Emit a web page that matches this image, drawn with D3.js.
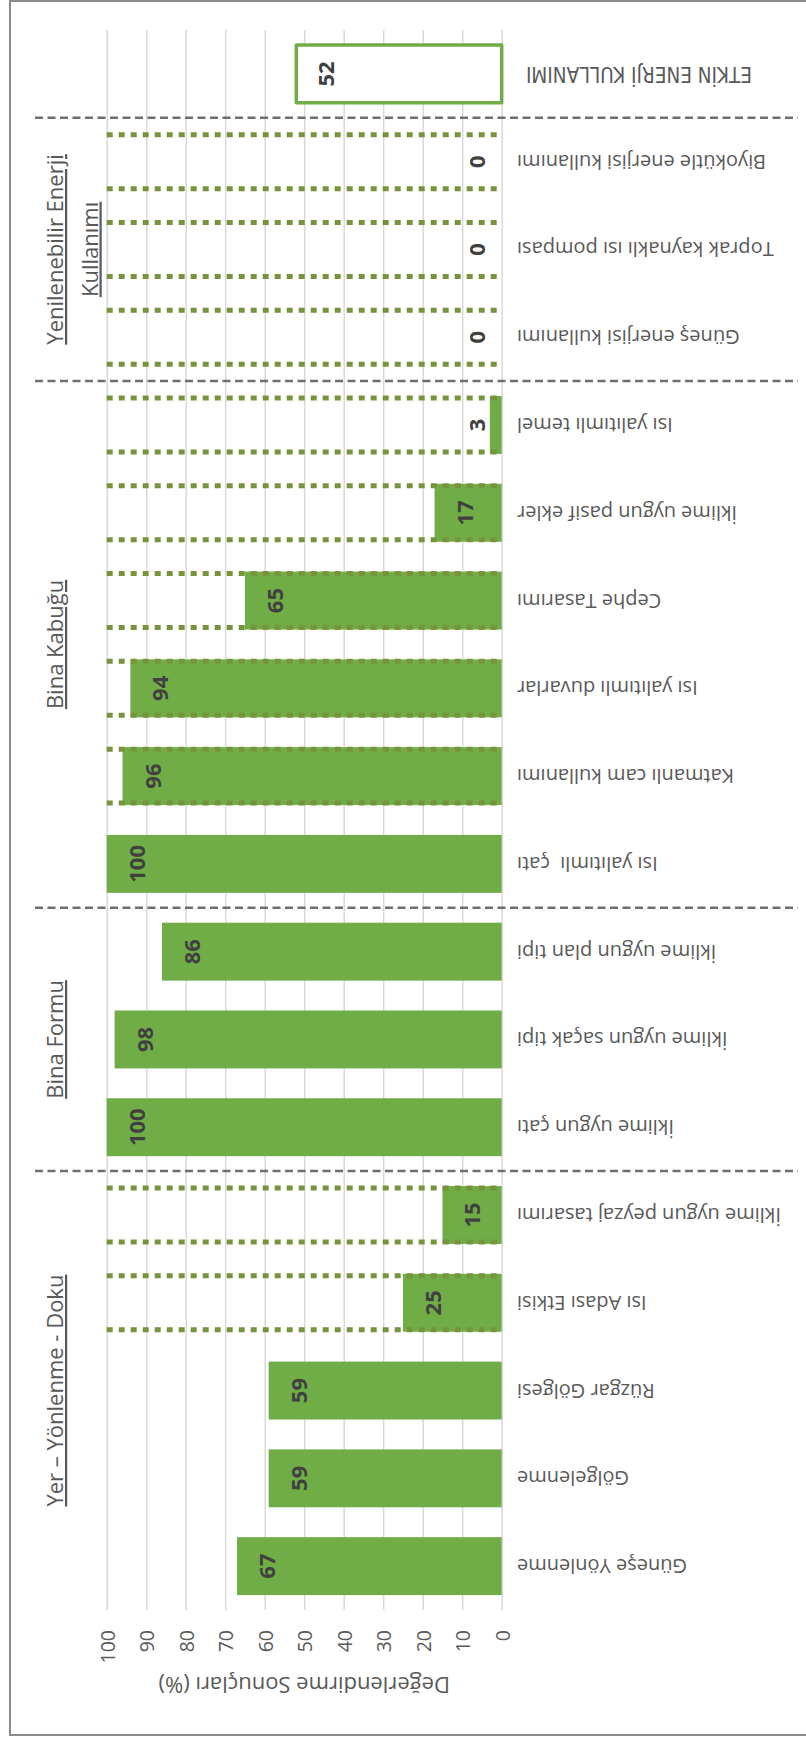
<!DOCTYPE html>
<html>
<head>
<meta charset="utf-8">
<script src="https://cdn.jsdelivr.net/npm/d3@7"></script>
<style>
  html, body { margin: 0; padding: 0; background: #fff; }
  svg { display: block; }
  text { font-family: "Open Sans", sans-serif; }
</style>
</head>
<body>
<svg id="chart" width="806" height="1737"></svg>
<script>
// Evaluation criteria, in axis order (first item sits next to the value axis)
const categories = [
  "Güneşe Yönlenme",
  "Gölgelenme",
  "Rüzgar Gölgesi",
  "Isı Adası Etkisi",
  "İklime uygun peyzaj tasarımı",
  "İklime uygun çatı",
  "İklime uygun saçak tipi",
  "İklime uygun plan tipi",
  "Isı yalıtımlı  çatı",
  "Katmanlı cam kullanımı",
  "Isı yalıtımlı duvarlar",
  "Cephe Tasarımı",
  "İklime uygun pasif ekler",
  "Isı yalıtımlı temel",
  "Güneş enerjisi kullanımı",
  "Toprak kaynaklı ısı pompası",
  "Biyokütle enerjisi kullanımı",
  "ETKİN ENERJİ KULLANIMI"
];

// Evaluation results (%)
const values = [67, 59, 59, 25, 15, 100, 98, 86, 100, 96, 94, 65, 17, 3, 0, 0, 0, 52];

// Criterion groups (consecutive runs of the categories above)
const groupNames = [
  ["Yer – Yönlenme - Doku"],
  ["Bina Formu"],
  ["Bina Kabuğu"],
  ["Yenilenebilir Enerji", "Kullanımı"]
];
const groupSizes = [5, 3, 6, 3];

// Criteria drawn with a dotted full-scale outline
const outlinedItems = [
  "Isı Adası Etkisi",
  "İklime uygun peyzaj tasarımı",
  "Katmanlı cam kullanımı",
  "Isı yalıtımlı duvarlar",
  "Cephe Tasarımı",
  "İklime uygun pasif ekler",
  "Isı yalıtımlı temel",
  "Güneş enerjisi kullanımı",
  "Toprak kaynaklı ısı pompası",
  "Biyokütle enerjisi kullanımı"
];

// Overall score shown as an empty box
const summaryItem = "ETKİN ENERJİ KULLANIMI";

const valueTicks = [0, 10, 20, 30, 40, 50, 60, 70, 80, 90, 100];
const axisTitle = "Değerlendirme Sonuçları (%)";

// ---------------------------------------------------------------
const W = 806, H = 1737;
const svg = d3.select("#chart");

// Page frame
svg.append("rect")
  .attr("x", 10).attr("y", 1)
  .attr("width", 820).attr("height", 1734)
  .attr("fill", "none")
  .attr("stroke", "#8c8c8c")
  .attr("stroke-width", 2);

// The column chart is laid out upright (H wide, W tall) and turned a quarter turn
const g = svg.append("g")
  .attr("transform", `translate(0,${H}) rotate(-90)`);

const x = d3.scaleBand()
  .domain(categories)
  .range([127, 1707])
  .paddingInner(0.34)
  .paddingOuter(0.17);

const y = d3.scaleLinear()
  .domain([0, 100])
  .range([501.7, 106.7]);

const bw = x.bandwidth();
const gap = x.step() - bw;

// Gridlines and value ticks
const yAxis = d3.axisLeft(y).tickValues(valueTicks).tickSize(-(1707 - 127)).tickPadding(0);
const axisG = g.append("g")
  .attr("transform", "translate(127,0)")
  .call(yAxis);
axisG.select(".domain").remove();
axisG.selectAll(".tick line")
  .attr("stroke", "#d9d9d9")
  .attr("stroke-width", 1.5);
axisG.selectAll(".tick text")
  .attr("x", -20)
  .attr("dy", null)
  .attr("dominant-baseline", "central")
  .attr("text-anchor", "end")
  .attr("fill", "#595959")
  .style("font-family", "'Open Sans', sans-serif")
  .style("font-size", "19.5px");

// Axis title
g.append("text")
  .attr("transform", `translate(51,${(y(0) + y(100)) / 2}) rotate(-90)`)
  .attr("text-anchor", "middle")
  .attr("dominant-baseline", "central")
  .attr("fill", "#595959")
  .style("font-size", "22px")
  .text(axisTitle);

const rows = categories.map((c, i) => ({ name: c, value: values[i] }));

// Filled bars
g.append("g").selectAll("rect")
  .data(rows.filter(d => d.name !== summaryItem && d.value > 0))
  .join("rect")
  .attr("x", d => x(d.name))
  .attr("width", bw)
  .attr("y", d => y(d.value))
  .attr("height", d => y(0) - y(d.value))
  .attr("fill", "#70ad47");

// Summary box
const summary = rows.find(d => d.name === summaryItem);
g.append("rect")
  .attr("x", x(summary.name))
  .attr("width", bw)
  .attr("y", y(summary.value))
  .attr("height", y(0) - y(summary.value))
  .attr("fill", "#fff")
  .attr("stroke", "#70ad47")
  .attr("stroke-width", 3.5)
  .attr("stroke-linejoin", "round");

// Dotted full-scale outlines (long edges only)
const dotted = g.append("g");
outlinedItems.forEach(name => {
  [x(name) + 2, x(name) + bw - 2].forEach(px => {
    dotted.append("line")
      .attr("x1", px).attr("x2", px)
      .attr("y1", y(100)).attr("y2", y(0))
      .attr("stroke", "#77933c")
      .attr("stroke-width", 5)
      .attr("stroke-dasharray", "6 6");
  });
});

// Group separators
const sepG = g.append("g");
let start = 0;
groupSizes.forEach(n => {
  start += n;
  const bx = x(categories[start]) - gap / 2;
  sepG.append("line")
    .attr("x1", bx).attr("x2", bx)
    .attr("y1", 35).attr("y2", 798)
    .attr("stroke", "#6e6e6e")
    .attr("stroke-width", 2.5)
    .attr("stroke-dasharray", "8 4.5");
});

// Group titles
start = 0;
groupSizes.forEach((n, gi) => {
  const first = categories[start], last = categories[start + n - 1];
  const cx = (x(first) + x(last) + bw) / 2;
  groupNames[gi].forEach((line, li) => {
    g.append("text")
      .attr("x", cx)
      .attr("y", 63 + li * 34.5)
      .attr("text-anchor", "middle")
      .attr("fill", "#595959")
      .style("font-size", "22px")
      .style("text-decoration", "underline")
      .text(line);
  });
  start += n;
});

// Category labels
g.append("g").selectAll("text")
  .data(rows)
  .join("text")
  .attr("transform", d => `translate(${x(d.name) + bw / 2},${d.name === summaryItem ? 526 : 517}) rotate(-90)`)
  .attr("text-anchor", "end")
  .attr("dy", "0.35em")
  .attr("fill", "#595959")
  .style("white-space", "pre")
  .style("font-family", d => d.name === summaryItem
    ? "'Liberation Sans Narrow', 'DejaVu Sans Condensed', sans-serif"
    : "'Open Sans', sans-serif")
  .style("font-size", d => d.name === summaryItem ? "20.5px" : "20px")
  .text(d => d.name);

// Value labels
g.append("g").selectAll("text")
  .data(rows)
  .join("text")
  .attr("x", d => x(d.name) + bw / 2)
  .attr("y", d => Math.min(y(d.value) + 29, y(0) - 26))
  .attr("text-anchor", "middle")
  .attr("dominant-baseline", "central")
  .attr("fill", "#404040")
  .style("font-size", "22px")
  .style("font-weight", "700")
  .text(d => d.value);
</script>
</body>
</html>
